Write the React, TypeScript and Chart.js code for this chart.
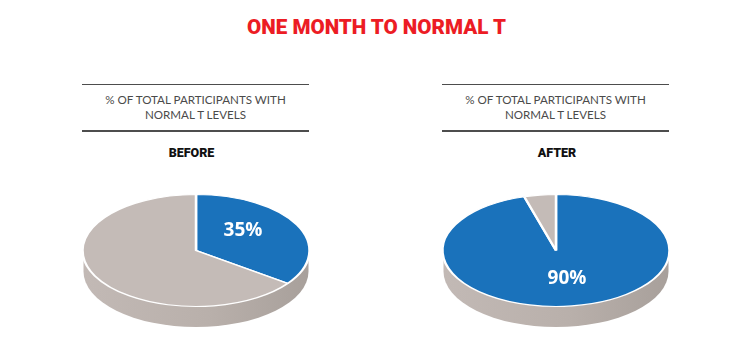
import React, { useEffect, useRef } from "react";
import { Chart, registerables } from "chart.js";

Chart.register(...registerables);

const chartTitle = "ONE MONTH TO NORMAL T";
const captionLines = ["% OF TOTAL PARTICIPANTS WITH", "NORMAL T LEVELS"];
const sliceNames = ["Normal T", "Other"];
const beforeSlices = [35, 65];
const afterSlices = [95.5, 4.5];
const BLUE = "#1a72bb";
const GREY = "#c4bbb7";

const CANVAS_W = 260;
const CANVAS_H = 232;
const RX = 112.5;
const RY = 55.5;
const DEPTH = 21;
const TOP_CY = 125.5; // ellipse centre, canvas coordinates

type PieProps = {
  name: string;
  values: number[];
  label: string;
  labelX: number;
  labelY: number;
  left: number;
};

function PieChart({ name, values, label, labelX, labelY, left }: PieProps) {
  const ref = useRef<HTMLCanvasElement>(null);
  useEffect(() => {
    if (!ref.current) return;
    const tilt = {
      id: "tilt",
      beforeDatasetsDraw(c: any) {
        const { ctx } = c;
        const m = c.getDatasetMeta(0).data[0];
        const cx = m.x;
        // extruded wall
        const g = ctx.createLinearGradient(cx - RX, 0, cx + RX, 0);
        g.addColorStop(0, "#c2b9b5");
        g.addColorStop(0.55, "#b9b0ab");
        g.addColorStop(1, "#a8a09b");
        ctx.save();
        ctx.fillStyle = g;
        ctx.beginPath();
        ctx.moveTo(cx - RX, TOP_CY);
        ctx.lineTo(cx - RX, TOP_CY + DEPTH);
        ctx.ellipse(cx, TOP_CY + DEPTH, RX, RY, 0, Math.PI, 0, true);
        ctx.lineTo(cx + RX, TOP_CY);
        ctx.closePath();
        ctx.fill();
        ctx.restore();
        // flatten the round pie into the tilted disc
        ctx.save();
        ctx.translate(cx, TOP_CY);
        ctx.scale(1, RY / RX);
        ctx.translate(-cx, -m.y);
      },
      afterDatasetsDraw(c: any) {
        const { ctx } = c;
        ctx.restore();
        const m = c.getDatasetMeta(0).data[0];
        ctx.save();
        ctx.fillStyle = "#ffffff";
        ctx.font = "700 19px 'Open Sans'";
        ctx.textAlign = "center";
        ctx.textBaseline = "middle";
        ctx.fillText(label, m.x + labelX, TOP_CY + labelY);
        ctx.restore();
      },
    };
    const chart = new Chart(ref.current, {
      type: "pie",
      data: {
        labels: sliceNames,
        datasets: [
          {
            label: name,
            data: values,
            backgroundColor: [BLUE, GREY],
            borderColor: "#ffffff",
            borderWidth: 2.5,
            radius: RX + 1,
          },
        ],
      },
      options: {
        responsive: false,
        animation: false,
        layout: { padding: 0 },
        plugins: { legend: { display: false }, tooltip: { enabled: false } },
      },
      plugins: [tilt],
    } as any);
    return () => chart.destroy();
  }, []);
  return (
    <canvas
      ref={ref}
      width={CANVAS_W}
      height={CANVAS_H}
      style={{ position: "absolute", left, top: 125, width: CANVAS_W, height: CANVAS_H }}
    />
  );
}

function Rule({ left, top }: { left: number; top: number }) {
  return <div style={{ position: "absolute", left, top, width: 227, height: 1.5, background: "#4d4d4d" }} />;
}

function Caption({ left }: { left: number }) {
  return (
    <div
      style={{
        position: "absolute",
        left,
        top: 92,
        width: 227,
        textAlign: "center",
        font: "400 11.6px/15px Lato",
        color: "#4a4a4a",
      }}
    >
      {captionLines.map((t) => (
        <div key={t}>{t}</div>
      ))}
    </div>
  );
}

function Heading({ text, center }: { text: string; center: number }) {
  return (
    <div
      style={{
        position: "absolute",
        left: center - 60,
        top: 145,
        width: 120,
        textAlign: "center",
        font: "900 12.5px/16px Roboto",
        color: "#111111",
      }}
    >
      {text}
    </div>
  );
}

export default function App() {
  return (
    <div
      style={{
        position: "absolute",
        left: 0,
        top: 0,
        width: 753,
        height: 355,
        overflow: "hidden",
        background: "#ffffff",
      }}
    >
      <div
        style={{
          position: "absolute",
          left: 0,
          width: 753,
          top: 14,
          textAlign: "center",
          font: "900 20.6px/26px Roboto",
          color: "#ec1c24",
        }}
      >
        {chartTitle}
      </div>
      <Rule left={82} top={83.5} />
      <Rule left={82} top={130} />
      <Rule left={442} top={83.5} />
      <Rule left={442} top={130} />
      <Caption left={82} />
      <Caption left={442} />
      <Heading text="BEFORE" center={191.5} />
      <Heading text="AFTER" center={557} />
      <PieChart name="Before" values={beforeSlices} label="35%" labelX={47} labelY={-19.5} left={66} />
      <PieChart name="After" values={afterSlices} label="90%" labelX={11} labelY={28} left={426} />
    </div>
  );
}
